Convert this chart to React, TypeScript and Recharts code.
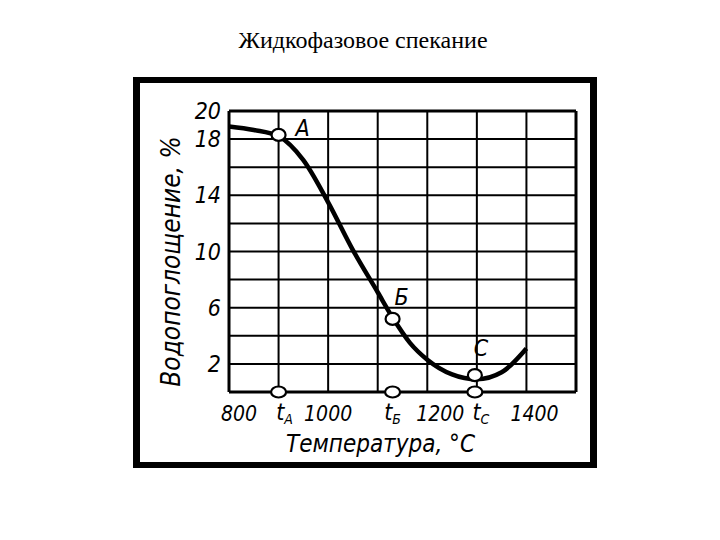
import React from 'react';
import { ComposedChart, Line, Scatter, XAxis, YAxis, CartesianGrid, ReferenceLine } from 'recharts';

// Curve: water absorption (%) vs temperature (°C)
const curveTemps = [800, 850, 900, 950, 1000, 1050, 1100, 1130, 1165, 1200, 1250, 1300, 1350, 1400];
const curveValues = [18.9, 18.65, 18.2, 16.5, 13.5, 10.1, 7.1, 5.3, 3.5, 2.3, 1.25, 0.9, 1.4, 3.1];

// Marked points on the curve
const pointNames = ['А', 'Б', 'С'];
const pointTemps = [900, 1130, 1296];
const pointValues = [18.3, 5.2, 1.2];

// Axis ticks
const xTicks = [800, 900, 1000, 1130, 1200, 1296, 1400];
const xTickLabels = ['800', 't_А', '1000', 't_Б', '1200', 't_С', '1400'];
const xGrid = [900, 1000, 1100, 1200, 1300, 1400, 1500];
const yTicks = [0, 2, 4, 6, 8, 10, 12, 14, 16, 18, 20];
const yTickLabels = ['', '2', '', '6', '', '10', '', '14', '', '18', '20'];

const title = 'Жидкофазовое спекание';
const xTitle = 'Температура, °С';
const yTitle = 'Водопоглощение, %';

const curveData = curveTemps.map((t, i) => ({ t, v: curveValues[i] }));
const pointData = pointTemps.map((t, i) => ({ t, v: pointValues[i], name: pointNames[i] }));
const axisPointData = pointTemps.map((t) => ({ t, v: 0 }));

const FONT = "'Liberation Sans Narrow', 'DejaVu Sans Condensed', 'DejaVu Sans', sans-serif";

// layout nudges for hand-lettered labels (pixels)
const tickNudge: Record<string, number> = {
  '800': 10,
  't_А': 6,
  '1000': 0,
  't_Б': 0,
  '1200': 13,
  't_С': 6,
  '1400': 8,
};

const labelOffsets: Record<string, [number, number]> = {
  'А': [24, -7],
  'Б': [9, -22],
  'С': [6, -27],
};

const XTick = (props: any) => {
  const { x, y, payload } = props;
  const idx = xTicks.indexOf(payload.value);
  const lab = idx >= 0 ? xTickLabels[idx] : String(payload.value);
  const nx = x + (tickNudge[lab] || 0);
  if (lab.startsWith('t_')) {
    return (
      <text x={nx} y={y + 20} textAnchor="middle" fontFamily={FONT} fontStyle="italic" fontSize={23} fill="#000">
        <tspan>t</tspan>
        <tspan dy={4} fontSize={14}>{lab.slice(2)}</tspan>
      </text>
    );
  }
  return (
    <text x={nx} y={y + 21} textAnchor="middle" fontFamily={FONT} fontStyle="italic" fontSize={21} fill="#000">
      {lab}
    </text>
  );
};

const PointShape = (props: any) => {
  const { cx, cy, payload } = props;
  const off = labelOffsets[payload.name] || [0, 0];
  return (
    <g>
      <ellipse cx={cx} cy={cy} rx={7} ry={6} fill="#fff" stroke="#000" strokeWidth={2.2} />
      <text
        x={cx + off[0]}
        y={cy + off[1]}
        dy="0.36em"
        textAnchor="middle"
        fontFamily={FONT}
        fontStyle="italic"
        fontSize={23}
        fill="#000"
      >
        {payload.name}
      </text>
    </g>
  );
};

const AxisPointShape = (props: any) => {
  const { cx, cy } = props;
  return <ellipse cx={cx} cy={cy} rx={7.5} ry={5.5} fill="#fff" stroke="#000" strokeWidth={2.2} />;
};

export default function App() {
  return (
    <div style={{ position: 'absolute', left: 0, top: 0, width: 720, height: 540, background: '#fff', overflow: 'hidden' }}>
      <div
        style={{
          position: 'absolute',
          left: 0,
          top: 26,
          width: 726,
          textAlign: 'center',
          fontFamily: "'Liberation Serif', 'Times New Roman', serif",
          fontSize: 24,
          lineHeight: '28px',
          color: '#000',
        }}
      >
        {title}
      </div>
      <div
        style={{
          position: 'absolute',
          left: 133,
          top: 77,
          width: 464,
          height: 391,
          boxSizing: 'border-box',
          borderLeft: '7px solid #000',
          borderRight: '7px solid #000',
          borderTop: '6px solid #000',
          borderBottom: '6px solid #000',
        }}
      />
      <div style={{ position: 'absolute', left: 0, top: 0 }}>
        <ComposedChart
          width={720}
          height={540}
          data={curveData}
          margin={{ top: 111, right: 144, left: 189, bottom: 118 }}
        >
          <CartesianGrid vertical={false} stroke="#000" strokeWidth={2} />
          {xGrid.map((g) => (
            <ReferenceLine key={g} x={g} stroke="#000" strokeWidth={g === 1500 ? 3 : 2} />
          ))}
          <ReferenceLine y={20} stroke="#000" strokeWidth={3} />
          <XAxis
            dataKey="t"
            type="number"
            domain={[800, 1500]}
            ticks={xTicks}
            interval={0}
            tickLine={false}
            axisLine={{ stroke: '#000', strokeWidth: 3 }}
            tick={<XTick />}
            label={{
              content: (p: any) => {
                const vb = p.viewBox || { x: 229, y: 392, width: 347, height: 30 };
                return (
                  <text
                    x={vb.x + vb.width / 2 - 22}
                    y={vb.y + 60}
                    textAnchor="middle"
                    fontFamily={FONT}
                    fontStyle="italic"
                    fontSize={24}
                    fill="#000"
                  >
                    {xTitle}
                  </text>
                );
              },
            }}
          />
          <YAxis
            dataKey="v"
            type="number"
            domain={[0, 20]}
            ticks={yTicks}
            interval={0}
            width={40}
            tickLine={false}
            axisLine={{ stroke: '#000', strokeWidth: 3 }}
            tickFormatter={(v: number) => yTickLabels[yTicks.indexOf(v)] ?? ''}
            tick={{ fill: '#000', fontSize: 23, fontStyle: 'italic', fontFamily: FONT }}
            label={{
              content: (p: any) => {
                const vb = p.viewBox || { x: 189, y: 111, width: 40, height: 281 };
                const cx = vb.x - 18;
                const cy = vb.y + vb.height / 2 + 10;
                return (
                  <text
                    x={cx}
                    y={cy}
                    dy="0.35em"
                    textAnchor="middle"
                    transform={`rotate(-90, ${cx}, ${cy})`}
                    fontFamily={FONT}
                    fontStyle="italic"
                    fontSize={26}
                    fill="#000"
                  >
                    {yTitle}
                  </text>
                );
              },
            }}
          />
          <Line
            type="monotone"
            dataKey="v"
            stroke="#000"
            strokeWidth={4.5}
            dot={false}
            activeDot={false}
            isAnimationActive={false}
          />
          <Scatter data={axisPointData} shape={<AxisPointShape />} isAnimationActive={false} />
          <Scatter data={pointData} shape={<PointShape />} isAnimationActive={false} />
        </ComposedChart>
      </div>
    </div>
  );
}
